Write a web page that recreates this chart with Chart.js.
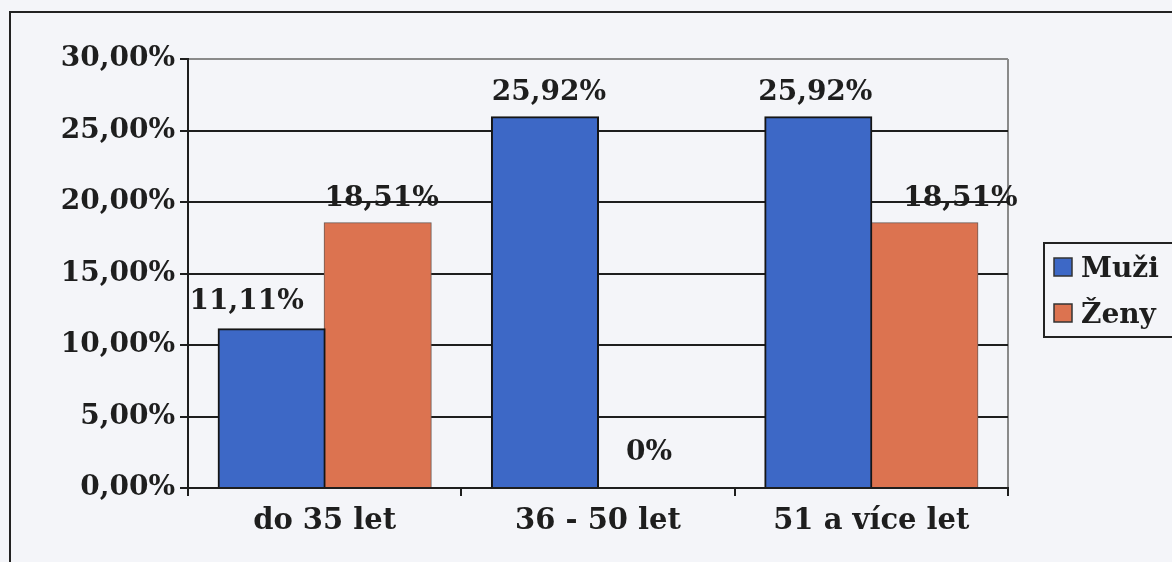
<!DOCTYPE html>
<html>
<head>
<meta charset="utf-8">
<script src="https://cdn.jsdelivr.net/npm/chart.js@4/dist/chart.umd.min.js"></script>
<style>
  html, body { margin: 0; padding: 0; background: #f4f5f9; }
  #wrap { width: 1172px; height: 562px; position: relative; }
</style>
</head>
<body>
<div id="wrap"><canvas id="chart" width="1172" height="562"></canvas></div>
<script>
// Data
const categories = ['do 35 let', '36 - 50 let', '51 a více let'];
const seriesNames = ['Muži', 'Ženy'];
const muzi = [11.11, 25.92, 25.92];
const zeny = [18.51, 0, 18.51];
const valueLabels = [['11,11%', '25,92%', '25,92%'], ['18,51%', '0%', '18,51%']];

// label nudges as placed in the original (px, x / lift above bar top)
const labelShift = [[-25, 4, -3], [4, -2, 36]];
const labelLift = [[20, 17, 17], [17, 28, 17]];

const FONT = '"DejaVu Serif", serif';
const INK = '#1e1e1e';
const BLUE = '#3d68c6';
const ORANGE = '#dc7350';

// Frame, plot border, value labels and the legend box
const decorations = {
    id: 'decorations',
    beforeDraw(chart) {
        const c = chart.ctx;
        c.save();
        c.fillStyle = '#f4f5f9';
        c.fillRect(0, 0, chart.width, chart.height);
        // outer frame (runs off the right/bottom edge like the scan)
        c.strokeStyle = '#222';
        c.lineWidth = 2;
        c.strokeRect(10, 12, 1200, 600);
        // plot area frame, grey on the right
        const a = chart.chartArea;
        c.strokeStyle = '#8a8a8a';
        c.lineWidth = 2;
        c.beginPath();
        c.moveTo(a.right, a.top);
        c.lineTo(a.right, a.bottom);
        c.stroke();
        c.restore();
    },
    afterDatasetsDraw(chart) {
        const c = chart.ctx;
        c.save();
        c.font = 'bold 28px ' + FONT;
        c.fillStyle = INK;
        c.textAlign = 'center';
        c.textBaseline = 'alphabetic';
        chart.data.datasets.forEach((ds, i) => {
            chart.getDatasetMeta(i).data.forEach((el, j) => {
                c.fillText(valueLabels[i][j], el.x + labelShift[i][j], el.y - labelLift[i][j]);
            });
        });
        c.restore();
    },
    afterDraw(chart) {
        const c = chart.ctx;
        c.save();
        // legend box
        c.fillStyle = '#f4f5f9';
        c.fillRect(1044, 243, 140, 94);
        c.strokeStyle = '#222';
        c.lineWidth = 2;
        c.strokeRect(1044, 243, 140, 94);
        const colors = [BLUE, ORANGE];
        const rowsY = [258, 304];
        c.font = 'bold 28px ' + FONT;
        c.textAlign = 'left';
        c.textBaseline = 'alphabetic';
        seriesNames.forEach((name, i) => {
            c.fillStyle = colors[i];
            c.fillRect(1054, rowsY[i], 18, 18);
            c.strokeStyle = '#333';
            c.lineWidth = 1.5;
            c.strokeRect(1054, rowsY[i], 18, 18);
            c.fillStyle = INK;
            c.fillText(name, 1081, rowsY[i] + 19);
        });
        c.restore();
    }
};

new Chart(document.getElementById('chart'), {
    type: 'bar',
    data: {
        labels: categories,
        datasets: [
            { label: seriesNames[0], data: muzi, backgroundColor: BLUE, borderColor: '#151515', borderWidth: 2 },
            { label: seriesNames[1], data: zeny, backgroundColor: ORANGE, borderColor: '#6b5a55', borderWidth: 1 }
        ]
    },
    options: {
        responsive: false,
        animation: false,
        layout: { padding: { top: 59, right: 164, left: 0, bottom: 0 } },
        datasets: { bar: { categoryPercentage: 0.776, barPercentage: 1.0, inflateAmount: 1 } },
        plugins: { legend: { display: false }, tooltip: { enabled: false } },
        scales: {
            x: {
                afterFit: s => { s.height = 562 - 488; },
                grid: { offset: true, drawOnChartArea: false, drawTicks: true, tickLength: 8, tickColor: INK, lineWidth: 2 },
                border: { color: INK, width: 2 },
                ticks: { color: INK, font: { family: FONT, size: 29, weight: 'bold' }, padding: 8 }
            },
            y: {
                min: 0,
                max: 30,
                afterFit: s => { s.width = 188; },
                grid: {
                    color: ctx => ctx.tick && ctx.tick.value === 30 ? '#8a8a8a' : INK,
                    lineWidth: 2,
                    tickLength: 8,
                    tickColor: INK
                },
                border: { color: INK, width: 2 },
                ticks: {
                    stepSize: 5,
                    color: INK,
                    padding: 5,
                    font: { family: FONT, size: 28, weight: 'bold' },
                    callback: v => v.toFixed(2).replace('.', ',') + '%'
                }
            }
        }
    },
    plugins: [decorations]
});
</script>
</body>
</html>
